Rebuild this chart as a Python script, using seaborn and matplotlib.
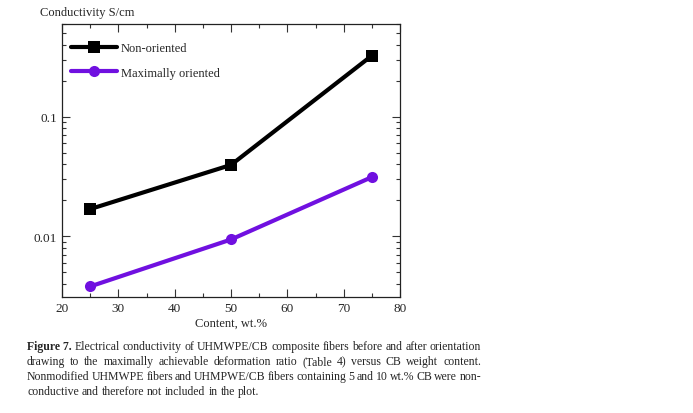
import matplotlib
matplotlib.use("Agg")
import matplotlib.pyplot as plt
import matplotlib.ticker as mticker
from matplotlib.lines import Line2D
import pandas as pd
import seaborn as sns

# Data
content = [25, 50, 75]
non_oriented = [0.0169, 0.0396, 0.326]
max_oriented = [0.0038, 0.0094, 0.0313]
series_names = ["Non-oriented", "Maximally oriented"]
colors = ["#000000", "#7010E0"]

caption_lines = [
    "Electrical conductivity of UHMWPE/CB composite fibers before and after orientation",
    "drawing to the maximally achievable deformation ratio (Table 4) versus CB weight content.",
    "Nonmodified UHMWPE fibers and UHMPWE/CB fibers containing 5 and 10 wt.% CB were non-",
    "conductive and therefore not included in the plot.",
]

data = pd.DataFrame({
    "content": content * 2,
    "conductivity": non_oriented + max_oriented,
    "sample": [series_names[0]] * 3 + [series_names[1]] * 3,
})

sns.set_style("ticks")
plt.rcParams["font.family"] = ["Liberation Serif", "DejaVu Serif"]

fig = plt.figure(figsize=(6.93, 4.14), dpi=100)
ax = fig.add_axes([0.0895, 0.2802, 0.4877, 0.6594])

sns.lineplot(data=data, x="content", y="conductivity", hue="sample", style="sample",
             palette=colors, markers=["s", "o"], dashes=False, linewidth=3,
             markersize=8, markeredgewidth=0, ax=ax, legend=False)

ax.set_yscale("log")
ax.set_xlim(20, 80)
ax.set_ylim(0.0031, 0.60)
ax.xaxis.set_major_locator(mticker.MultipleLocator(10))
ax.xaxis.set_minor_locator(mticker.MultipleLocator(5))
ax.yaxis.set_major_locator(mticker.FixedLocator([0.01, 0.1]))
ax.yaxis.set_major_formatter(mticker.FixedFormatter(["0.01", "0.1"]))
ax.tick_params(axis="both", which="both", direction="in", top=True, right=True,
               labelsize=9.5, width=0.8, color="#333333")
ax.tick_params(which="major", length=6)
ax.tick_params(which="minor", length=3)
for s in ax.spines.values():
    s.set_linewidth(0.9)
    s.set_color("#222222")

ax.set_xlabel("Content, wt.%", fontsize=9, labelpad=2)
ax.set_ylabel("")
fig.text(0.058, 0.955, "Conductivity S/cm", fontsize=9, ha="left", va="bottom")

handles = [Line2D([], [], color=colors[0], lw=3, marker="s", ms=8, mew=0),
           Line2D([], [], color=colors[1], lw=3, marker="o", ms=8, mew=0)]
ax.legend(handles, series_names, loc="upper left", frameon=False, fontsize=9,
          handlelength=3.7, handletextpad=0.3, borderaxespad=0.3, labelspacing=1.0,
          bbox_to_anchor=(0.0, 0.965))

# Caption, justified like the source page
fig.canvas.draw()
renderer = fig.canvas.get_renderer()
left_px, right_px = 27, 481
line_y = [347, 362, 377, 392]
fs = 8.5
for i, line in enumerate(caption_lines):
    items = []
    if i == 0:
        items.append(("Figure 7.", "bold"))
    items += [(w, "normal") for w in line.split(" ")]
    texts = []
    widths = []
    for w, weight in items:
        t = fig.text(0, 1 - line_y[i] / 414, w, fontsize=fs, fontweight=weight,
                     ha="left", va="center")
        texts.append(t)
        widths.append(t.get_window_extent(renderer).width)
    if i < len(caption_lines) - 1:
        gap = (right_px - left_px - sum(widths)) / (len(items) - 1)
    else:
        gap = fs * 100 / 72 * 0.25
    x = left_px
    for t, w in zip(texts, widths):
        t.set_x(x / 693)
        x += w + gap

fig.savefig("out.png", dpi=100)
